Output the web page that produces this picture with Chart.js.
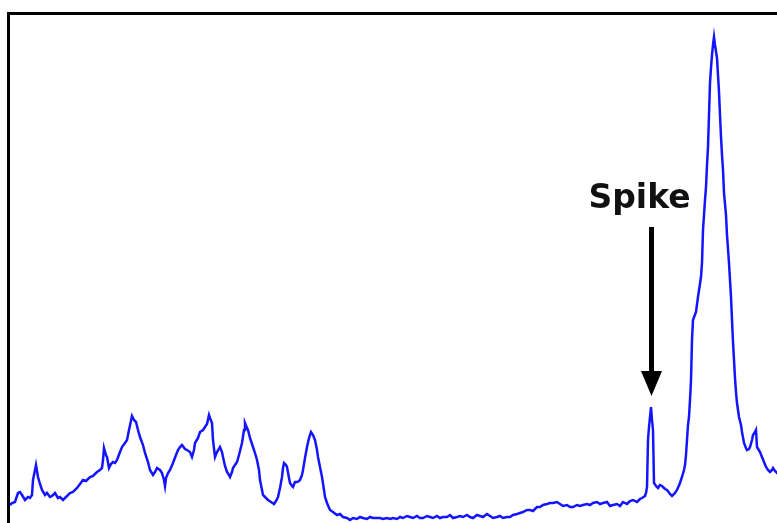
<!DOCTYPE html>
<html>
<head>
<meta charset="utf-8">
<script src="https://cdn.jsdelivr.net/npm/chart.js@4/dist/chart.umd.min.js"></script>
<style>
  html, body { margin: 0; padding: 0; background: #fff; overflow: hidden; }
  #wrap { position: absolute; left: 0; top: 0; width: 800px; height: 533px; }
</style>
</head>
<body>
<div id="wrap"><canvas id="c"></canvas></div>
<script>
// Detector channel for each sample
const channel = [
  1,3,6,9,11,13,16,19,21,23,24,26,27,29,31,33,36,38,41,43,46,49,51,54,57,61,64,68,71,74,77,81,84,88,91,93,94,95,97,98,
  100,102,104,106,108,111,113,116,118,120,123,125,127,129,131,134,136,139,141,144,146,148,151,153,155,156,157,159,161,164,
  167,169,171,173,176,178,181,183,185,186,189,191,194,196,198,200,201,203,204,206,208,211,213,214,216,218,220,221,223,224,
  226,228,230,233,235,236,238,239,241,244,246,248,250,251,253,254,256,259,262,265,267,269,271,273,274,275,277,278,280,281,
  283,284,286,288,290,291,293,294,296,298,300,302,304,306,308,309,311,313,315,316,318,321,324,328,331,334,338,341,344,348,
  351,354,358,361,364,368,371,374,378,381,384,388,391,394,398,401,404,408,411,414,418,421,424,428,431,434,438,441,444,448,
  451,454,458,461,464,468,471,474,478,481,484,488,491,494,498,501,504,508,511,514,518,521,524,528,531,534,538,541,544,548,
  551,554,558,561,564,568,571,574,578,581,584,588,591,594,598,601,604,608,611,614,618,621,624,628,631,633,636,637,638,639,
  640,642,643,644,645,647,649,651,653,656,658,661,663,666,668,671,673,675,676,677,678,679,680,681,682,683,684,687,689,692,
  693,694,696,697,698,699,700,701,702,703,704,705,706,708,709,710,711,712,713,714,715,717,718,720,721,722,723,724,725,726,
  727,728,730,732,733,735,737,738,740,741,743,744,746,747,748,751,753,755,757,759,761,763,764,766,768,771
];

// Counts recorded in each channel
const counts = [
  280,300,310,400,410,380,330,360,350,380,530,630,680,560,490,430,380,400,360,370,400,350,360,330,360,400,410,450,490,530,520,560,570,610,630,650,730,850,780,760,
  650,690,710,700,730,810,860,900,930,1030,1170,1130,1110,1030,960,880,800,710,630,580,610,650,630,600,530,470,550,600,630,700,
  780,830,860,880,840,830,810,760,830,900,950,1010,1030,1060,1090,1180,1150,1100,930,760,810,860,810,760,670,610,580,560,610,650,
  680,710,780,900,1030,1100,1050,1030,950,860,800,730,630,530,430,380,360,330,310,290,320,360,450,560,650,700,680,660,550,500,
  470,460,510,510,520,530,580,630,750,860,950,1010,980,930,830,760,660,560,430,360,300,230,210,180,190,160,150,130,150,140,
  160,150,140,160,150,150,150,140,150,140,150,140,160,150,170,160,150,170,150,150,170,160,150,170,150,160,160,180,150,160,
  170,160,180,160,150,180,170,160,190,170,150,160,170,150,160,160,180,190,200,210,230,230,220,260,260,280,290,300,300,310,
  290,270,280,260,260,280,270,280,290,280,300,310,290,300,310,270,280,290,270,310,290,320,330,310,340,350,370,400,460,930,
  1060,1260,1130,1030,500,470,450,480,470,440,430,390,370,400,430,500,560,630,680,780,930,1080,1160,1330,1530,1930,2130,2210,2360,2560,
  2700,3030,3330,3460,3680,3860,4180,4500,4650,4780,4880,4960,4880,4750,4580,4410,4180,3960,3780,3630,3400,3180,2980,2700,2530,2360,2130,1910,1730,1550,
  1410,1300,1160,1080,1010,900,850,830,840,860,930,980,1010,1030,860,810,760,710,660,630,610,630,650,620,600,630
];

const spikeLabel = 'Spike';
const spikeChannel = 642;

const points = channel.map((x, i) => ({ x: x, y: counts[i] }));

// Black frame around the plotting area
const framePlugin = {
  id: 'frame',
  afterDraw(chart) {
    const { ctx, chartArea: a } = chart;
    ctx.save();
    ctx.strokeStyle = '#000';
    ctx.lineWidth = 3;
    ctx.strokeRect(a.left - 0.5, a.top + 0.5, a.right - a.left, a.bottom - a.top);
    ctx.restore();
  }
};

// Label and downward arrow pointing at the spike
const spikePlugin = {
  id: 'spikeArrow',
  afterDraw(chart) {
    const { ctx, scales } = chart;
    const idx = channel.indexOf(spikeChannel);
    const px = scales.x.getPixelForValue(spikeChannel) + 0.5;
    const topY = scales.y.getPixelForValue(counts[idx]);
    const tipY = topY - 11;
    const tailY = tipY - 169;
    const headLen = 25, headHalf = 10.5;
    ctx.save();
    ctx.fillStyle = '#000';
    ctx.strokeStyle = '#000';
    ctx.lineWidth = 5;
    ctx.beginPath();
    ctx.moveTo(px, tailY);
    ctx.lineTo(px, tipY - headLen + 2);
    ctx.stroke();
    ctx.beginPath();
    ctx.moveTo(px - headHalf, tipY - headLen);
    ctx.lineTo(px + headHalf, tipY - headLen);
    ctx.lineTo(px, tipY);
    ctx.closePath();
    ctx.fill();
    ctx.font = 'bold 33px "DejaVu Sans", Verdana, sans-serif';
    ctx.textAlign = 'center';
    ctx.textBaseline = 'alphabetic';
    ctx.fillStyle = '#111';
    ctx.fillText(spikeLabel, px - 12, tailY - 19);
    ctx.restore();
  }
};

new Chart(document.getElementById('c'), {
  type: 'line',
  data: {
    datasets: [{
      data: points,
      borderColor: '#1414ff',
      borderWidth: 2.5,
      pointRadius: 0,
      tension: 0,
      fill: false
    }]
  },
  options: {
    responsive: true,
    maintainAspectRatio: false,
    animation: false,
    layout: { padding: { left: 9, top: 13, right: 0, bottom: 0 } },
    plugins: { legend: { display: false }, tooltip: { enabled: false } },
    scales: {
      x: { type: 'linear', min: 0, max: 791, display: false },
      y: { type: 'linear', min: 0, max: 5200, display: false }
    }
  },
  plugins: [framePlugin, spikePlugin]
});
</script>
</body>
</html>
